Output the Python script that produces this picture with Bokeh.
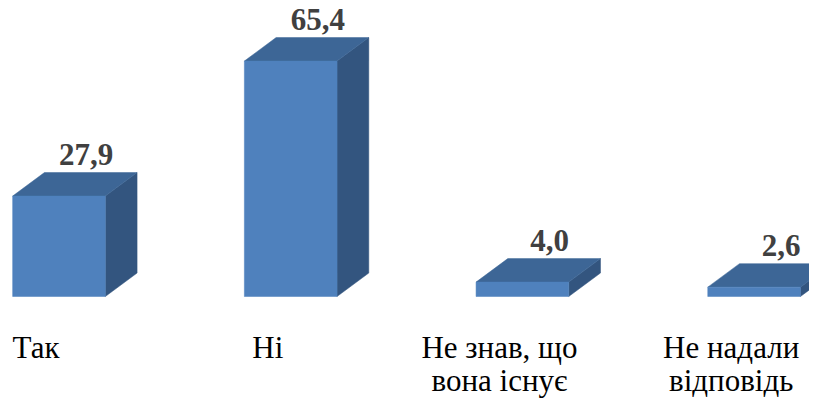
from bokeh.plotting import figure
from bokeh.models import Range1d, ColumnDataSource
from bokeh.core.properties import value
from bokeh.embed import file_html
from bokeh.resources import INLINE

categories = ["Так", "Ні", "Не знав, що\nвона існує", "Не надали\nвідповідь"]
values = [27.9, 65.4, 4.0, 2.6]
value_labels = ["27,9", "65,4", "4,0", "2,6"]

FRONT = "#4F81BD"
TOP = "#3D6696"
SIDE = "#33557F"

W, H = 809, 401
slot_px = 231.7        # px between category centres
first_px = 58.5        # px of first front-face centre
base_px = 296          # px (from top) of the bar baseline
unit_px = 3.6          # px per percentage point

bar_w = 0.40
dx = 0.137
dy = 23.5 / unit_px

xs = list(range(len(categories)))

x0r = -first_px / slot_px
x1r = (W - first_px) / slot_px
y0r = -(H - base_px) / unit_px
y1r = base_px / unit_px

p = figure(width=W, height=H, output_backend="svg", toolbar_location=None,
           x_range=Range1d(x0r, x1r), y_range=Range1d(y0r, y1r),
           min_border=0, min_border_left=0, min_border_right=0,
           min_border_top=0, min_border_bottom=0)
p.axis.visible = False
p.grid.visible = False
p.outline_line_color = None
p.background_fill_color = "white"
p.border_fill_color = "white"

top_xs, top_ys, side_xs, side_ys = [], [], [], []
for i, v in zip(xs, values):
    a, b = i - bar_w / 2, i + bar_w / 2
    top_xs.append([a, b, b + dx, a + dx])
    top_ys.append([v, v, v + dy, v + dy])
    side_xs.append([b, b + dx, b + dx, b])
    side_ys.append([0, dy, v + dy, v])

p.patches(side_xs, side_ys, fill_color=SIDE, line_color=SIDE, line_width=0.5)
p.patches(top_xs, top_ys, fill_color=TOP, line_color=TOP, line_width=0.5)
p.vbar(x=xs, top=values, bottom=0, width=bar_w, fill_color=FRONT, line_color=FRONT, line_width=0.5)

lab_src = ColumnDataSource(dict(x=[i + 0.117 for i in xs], y=[v + dy for v in values], t=value_labels))
p.text(x="x", y="y", text="t", source=lab_src, text_font=value("Liberation Serif"),
       text_font_style="bold", text_font_size="31px", text_color="#404040",
       text_align="center", text_baseline="alphabetic", y_offset=-18)

line1 = [c.split("\n")[0] for c in categories]
line2 = [c.split("\n")[1] if "\n" in c else "" for c in categories]
cat_x = [i - 0.099 for i in xs]
for k, lines in enumerate([line1, line2]):
    src = ColumnDataSource(dict(x=cat_x, y=[0] * len(xs), t=lines))
    p.text(x="x", y="y", text="t", source=src, text_font=value("Liberation Serif"),
           text_font_style="normal", text_font_size="31px", text_color="#000000",
           text_align="center", text_baseline="alphabetic", y_offset=51 + 33 * k)

open("out.html", "w").write(file_html(p, INLINE))
